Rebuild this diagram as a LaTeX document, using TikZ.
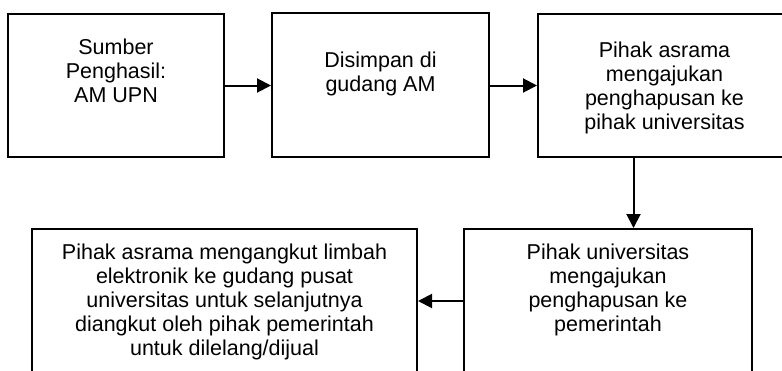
\documentclass[tikz,border=0pt]{standalone}
\usepackage{fontspec}
\setmainfont{Liberation Sans}
\usepackage{tikz}
\usetikzlibrary{positioning, arrows.meta, calc}
\tikzset{
  box/.style={draw=black, line width=2pt, fill=white, rectangle,
    inner sep=0pt, anchor=north west},
  txt/.style={font=\fontsize{21.5pt}{24pt}\selectfont, align=center,
    inner sep=0pt, anchor=north},
  flow/.style={-{Triangle[length=14pt, width=14pt]}, line width=2pt, color=black},
}

\begin{document}
\begin{tikzpicture}[x=1pt, y=1pt]
  \clip (0,0) rectangle (782,-370);
  \fill[white] (0,0) rectangle (782,-370);
  % top row
  \node[box, minimum width=216pt, minimum height=143pt] (src) at (7,-13) {};
  \node[box, minimum width=217pt, minimum height=144pt] (gud) at (271,-12) {};
  \node[box, minimum width=253pt, minimum height=143pt] (aju1) at (537,-13) {};
  % bottom row
  \node[box, minimum width=288pt, minimum height=146pt] (aju2) at (463,-228) {};
  \node[box, minimum width=385pt, minimum height=146pt] (angkut) at (31,-228) {};
  % texts
  \node[txt, below=26pt of src.north] (tsrc) {Sumber\\Penghasil:\\AM UPN};
  \node[txt, below=40pt of gud.north] (tgud) {Disimpan di\\gudang AM};
  \node[txt, below=29pt of aju1.north] (taju1) {Pihak asrama\\mengajukan\\penghapusan ke\\pihak universitas};
  \node[txt, below=16pt of aju2.north] (taju2) {Pihak universitas\\mengajukan\\penghapusan ke\\pemerintah};
  \node[txt, below=16pt of angkut.north] (tangkut) {Pihak asrama mengangkut limbah\\elektronik ke gudang pusat\\universitas untuk selanjutnya\\diangkut oleh pihak pemerintah\\untuk dilelang/dijual};
  % arrows
  \draw[flow] (src.east) -- (src.east -| gud.west);
  \draw[flow] (gud.east |- src.east) -- (src.east -| aju1.west);
  \draw[flow] ([xshift=-31pt]aju1.south) -- ([xshift=-31pt]aju1.south |- aju2.north);
  \draw[flow] ([yshift=-73pt]aju2.north west) -- ([yshift=-73pt]aju2.north west -| angkut.east);
\end{tikzpicture}
\end{document}
